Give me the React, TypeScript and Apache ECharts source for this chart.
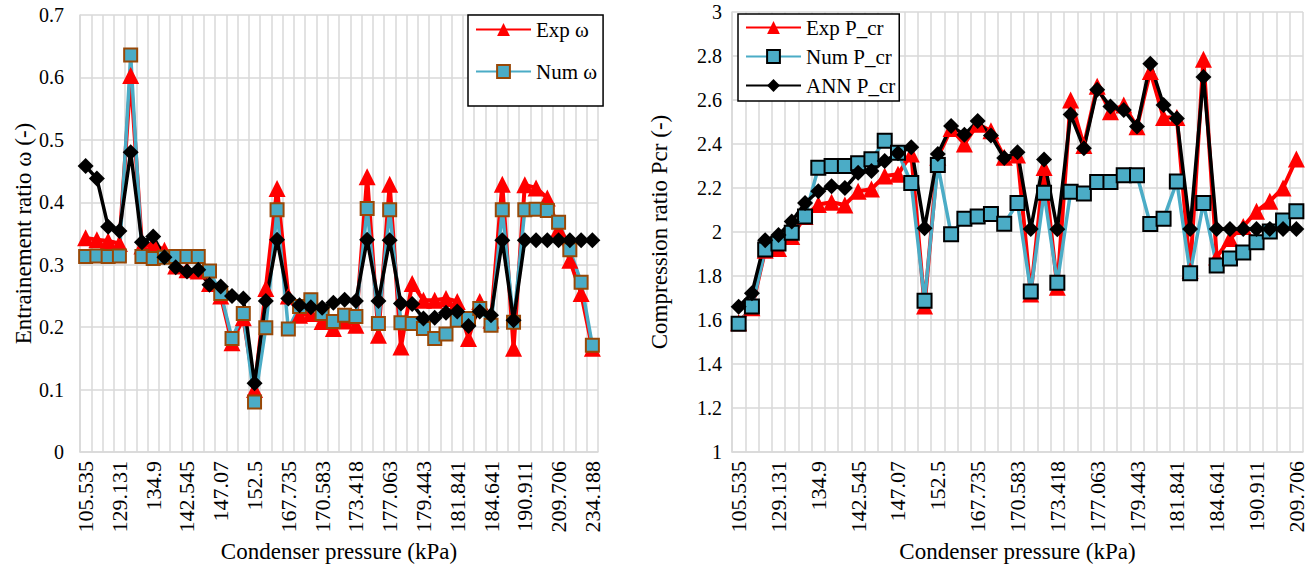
import React, { useEffect, useRef } from "react";
import * as echarts from "echarts";

const categories: string[] = [
  "105.535", "112.462", "120.897", "129.131", "131.004", "132.617", "134.9", "137.325",
  "139.886", "142.545", "144.093", "145.678", "147.07", "148.942", "150.763", "152.5",
  "158.244", "163.117", "167.735", "168.892", "169.706", "170.583", "171.512", "172.466",
  "173.418", "174.631", "175.872", "177.063", "178.015", "178.736", "179.443", "180.204",
  "181.027", "181.841", "182.718", "183.596", "184.641", "186.913", "188.457", "190.911",
  "195.384", "202.615", "209.706", "216.549", "225.372", "234.188",
];

const expOmega: number[] = [
  0.343, 0.340, 0.338, 0.334, 0.603, 0.330, 0.333, 0.323, 0.298, 0.292, 0.290, 0.270,
  0.250, 0.175, 0.215, 0.100, 0.262, 0.422, 0.250, 0.219, 0.222, 0.209, 0.198, 0.210,
  0.203, 0.441, 0.187, 0.429, 0.168, 0.270, 0.243, 0.243, 0.246, 0.241, 0.182, 0.241,
  0.211, 0.429, 0.166, 0.428, 0.423, 0.407, 0.357, 0.307, 0.254, 0.166,
];

const numOmega: number[] = [
  0.313, 0.314, 0.313, 0.314, 0.636, 0.313, 0.310, 0.312, 0.313, 0.313, 0.313, 0.290,
  0.254, 0.182, 0.222, 0.080, 0.199, 0.388, 0.197, 0.233, 0.244, 0.222, 0.209, 0.219,
  0.217, 0.390, 0.206, 0.388, 0.207, 0.206, 0.198, 0.182, 0.189, 0.211, 0.214, 0.230,
  0.203, 0.388, 0.208, 0.388, 0.389, 0.387, 0.368, 0.324, 0.272, 0.171,
];

const annOmega: number[] = [
  0.458, 0.438, 0.361, 0.354, 0.480, 0.336, 0.345, 0.312, 0.296, 0.289, 0.292, 0.268,
  0.265, 0.250, 0.246, 0.110, 0.242, 0.340, 0.246, 0.235, 0.232, 0.231, 0.239, 0.244,
  0.242, 0.340, 0.242, 0.339, 0.238, 0.237, 0.214, 0.215, 0.223, 0.225, 0.202, 0.225,
  0.219, 0.339, 0.211, 0.339, 0.339, 0.339, 0.339, 0.339, 0.339, 0.339,
];

const categoriesPcr: string[] = categories.slice(0, 43);

const expPcr: number[] = [
  1.587, 1.656, 1.917, 1.925, 1.980, 2.070, 2.125, 2.135, 2.123, 2.185, 2.195, 2.255,
  2.262, 2.355, 1.664, 2.340, 2.470, 2.400, 2.490, 2.460, 2.340, 2.350, 1.718, 2.293,
  1.749, 2.600, 2.393, 2.662, 2.547, 2.577, 2.478, 2.730, 2.520, 2.520, 1.825, 2.785,
  1.886, 1.970, 2.025, 2.094, 2.140, 2.200, 2.332,
];

const numPcr: number[] = [
  1.583, 1.661, 1.920, 1.948, 1.997, 2.070, 2.292, 2.300, 2.300, 2.312, 2.331, 2.415,
  2.360, 2.223, 1.687, 2.304, 1.990, 2.060, 2.071, 2.082, 2.037, 2.132, 1.730, 2.178,
  1.769, 2.183, 2.175, 2.227, 2.227, 2.258, 2.258, 2.036, 2.060, 2.229, 1.813, 2.132,
  1.848, 1.879, 1.907, 1.953, 2.002, 2.052, 2.094,
];

const annPcr: number[] = [
  1.660, 1.722, 1.963, 1.986, 2.048, 2.132, 2.185, 2.208, 2.200, 2.269, 2.277, 2.323,
  2.358, 2.385, 2.017, 2.355, 2.482, 2.442, 2.504, 2.439, 2.336, 2.363, 2.014, 2.329,
  2.012, 2.534, 2.381, 2.647, 2.570, 2.554, 2.480, 2.765, 2.577, 2.516, 2.014, 2.705,
  2.014, 2.014, 2.014, 2.014, 2.014, 2.014, 2.014,
];

const FONT = "'Liberation Serif', 'Times New Roman', 'DejaVu Serif', serif";
const GRID = "#D9D9D9";
const RED = "#FF0000";
const BLUE = "#4BACC6";
const BROWN = "#984807";

function xAxisCfg(idx: number, data: string[]) {
  return {
    type: "category",
    gridIndex: idx,
    data,
    boundaryGap: true,
    name: "Condenser pressure (kPa)",
    nameLocation: "middle",
    nameGap: 88,
    nameTextStyle: { fontFamily: FONT, fontSize: 23, color: "#000" },
    axisLine: { show: true, lineStyle: { color: GRID, width: 1.5 } },
    axisTick: { show: false },
    axisLabel: {
      interval: 2,
      rotate: 90,
      margin: 9,
      fontFamily: FONT,
      fontSize: 22,
      color: "#000",
    },
    splitLine: { show: true, interval: 0, lineStyle: { color: GRID, width: 1.5 } },
  };
}

function yAxisCfg(idx: number, name: string, min: number, max: number, interval: number, nameGap: number, margin: number) {
  return {
    type: "value",
    gridIndex: idx,
    min,
    max,
    interval,
    name,
    nameLocation: "middle",
    nameGap,
    nameTextStyle: { fontFamily: FONT, fontSize: 23, color: "#000" },
    axisLine: { show: true, lineStyle: { color: GRID, width: 1.5 } },
    axisTick: { show: false },
    axisLabel: { fontFamily: FONT, fontSize: 20, color: "#000", margin },
    splitLine: { show: true, lineStyle: { color: GRID, width: 1.5 } },
  };
}

export default function App() {
  const ref = useRef<HTMLDivElement>(null);

  useEffect(() => {
    if (!ref.current) return;
    const chart = echarts.init(ref.current, null, { renderer: "svg" });
    const common = { type: "line", showAllSymbol: true, symbolKeepAspect: true };
    const option = {
      animation: false,
      backgroundColor: "#fff",
      textStyle: { fontFamily: FONT },
      grid: [
        { left: 80, right: 711, top: 15, bottom: 117 },
        { left: 732, right: 6, top: 12, bottom: 117 },
      ],
      xAxis: [xAxisCfg(0, categories), xAxisCfg(1, categoriesPcr)],
      yAxis: [
        yAxisCfg(0, "Entrainement ratio ω (-)", 0, 0.7, 0.1, 41, 16),
        yAxisCfg(1, "Compression ratio Pcr (-)", 1, 3, 0.2, 61, 10),
      ],
      legend: [
        {
          data: ["Exp ω", "Num ω"],
          orient: "vertical",
          left: 468,
          top: 15,
          itemWidth: 55,
          itemHeight: 16,
          itemGap: 21,
          padding: [4, 6, 24, 7],
          borderColor: "#000",
          borderWidth: 1.5,
          backgroundColor: "#fff",
          textStyle: { fontFamily: FONT, fontSize: 21, color: "#000" },
        },
        {
          data: ["Exp P_cr", "Num P_cr", "ANN P_cr"],
          orient: "vertical",
          left: 738,
          top: 14,
          itemWidth: 55,
          itemHeight: 16,
          itemGap: 8,
          padding: [3, 4, 5, 7],
          borderColor: "#000",
          borderWidth: 1.5,
          backgroundColor: "#fff",
          textStyle: { fontFamily: FONT, fontSize: 21, color: "#000" },
        },
      ],
      series: [
        {
          ...common,
          name: "Exp ω",
          xAxisIndex: 0,
          yAxisIndex: 0,
          data: expOmega,
          symbol: "triangle",
          symbolSize: 17,
          lineStyle: { color: RED, width: 4 },
          itemStyle: { color: RED },
        },
        {
          ...common,
          name: "Num ω",
          xAxisIndex: 0,
          yAxisIndex: 0,
          data: numOmega,
          symbol: "rect",
          symbolSize: 13,
          lineStyle: { color: BLUE, width: 3.5 },
          itemStyle: { color: BLUE, borderColor: BROWN, borderWidth: 2 },
        },
        {
          ...common,
          name: "ANN ω",
          xAxisIndex: 0,
          yAxisIndex: 0,
          data: annOmega,
          symbol: "diamond",
          symbolSize: 16,
          lineStyle: { color: "#000", width: 3.5 },
          itemStyle: { color: "#000" },
        },
        {
          ...common,
          name: "Exp P_cr",
          xAxisIndex: 1,
          yAxisIndex: 1,
          data: expPcr,
          symbol: "triangle",
          symbolSize: 17,
          lineStyle: { color: RED, width: 4 },
          itemStyle: { color: RED },
        },
        {
          ...common,
          name: "Num P_cr",
          xAxisIndex: 1,
          yAxisIndex: 1,
          data: numPcr,
          symbol: "rect",
          symbolSize: 14,
          lineStyle: { color: BLUE, width: 3.5 },
          itemStyle: { color: BLUE, borderColor: "#000", borderWidth: 2 },
        },
        {
          ...common,
          name: "ANN P_cr",
          xAxisIndex: 1,
          yAxisIndex: 1,
          data: annPcr,
          symbol: "diamond",
          symbolSize: 16,
          lineStyle: { color: "#000", width: 3.5 },
          itemStyle: { color: "#000" },
        },
      ],
    };
    chart.setOption(option as any);
    return () => {
      chart.dispose();
    };
  }, []);

  return (
    <div
      ref={ref}
      style={{ position: "fixed", left: 0, top: 0, width: 1309, height: 569, background: "#fff" }}
    />
  );
}
